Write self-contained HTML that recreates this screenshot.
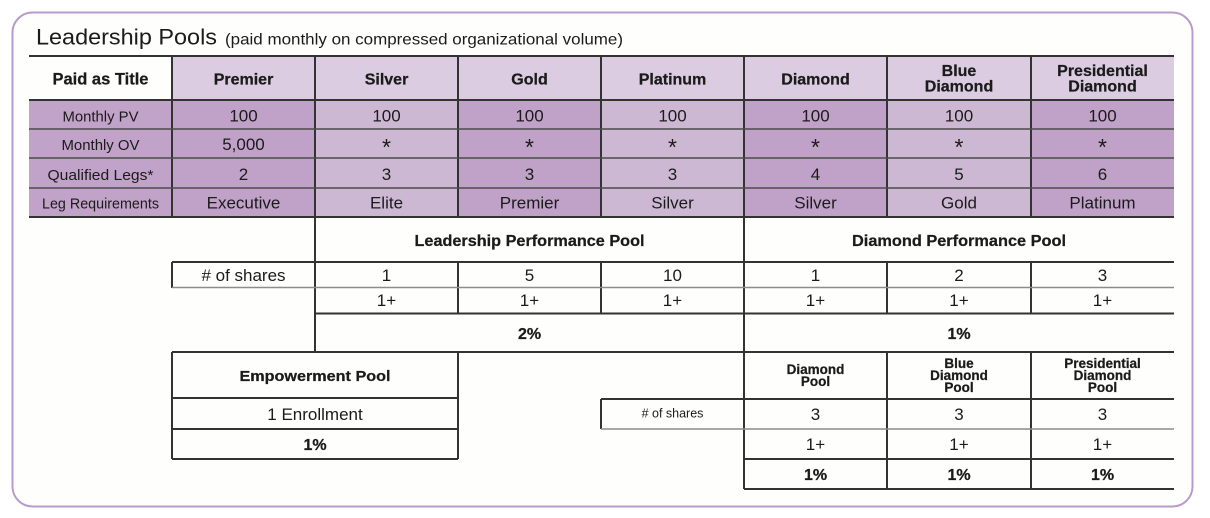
<!DOCTYPE html>
<html>
<head>
<meta charset="utf-8">
<style>
  html,body{margin:0;padding:0;background:#ffffff;}
  svg{display:block;}
  text{font-family:"Liberation Sans", Arial, sans-serif; fill:#1b1b1b;}
  .b{font-weight:bold; stroke:#1b1b1b; stroke-width:0.25;}
</style>
</head>
<body>
<svg width="1210" height="518" viewBox="0 0 1210 518" xmlns="http://www.w3.org/2000/svg">
  <!-- outer rounded border -->
  <rect x="12.5" y="12.5" width="1180" height="494" rx="20" ry="20" fill="#fefefc" stroke="#b99bcb" stroke-width="2"/>

  <!-- title -->
  <text x="36" y="44.5" font-size="22" textLength="181" lengthAdjust="spacingAndGlyphs">Leadership Pools</text>
  <text x="225" y="44.5" font-size="16" textLength="398" lengthAdjust="spacingAndGlyphs">(paid monthly on compressed organizational volume)</text>

  <!-- header row fills -->
  <rect x="172" y="56" width="1002" height="44" fill="#dccce1"/>
  <!-- body fills -->
  <rect x="29" y="100" width="143" height="117" fill="#c1a2c8"/>
  <rect x="172" y="100" width="143" height="117" fill="#c0a1c8"/>
  <rect x="315" y="100" width="143" height="117" fill="#cdb8d4"/>
  <rect x="458" y="100" width="143" height="117" fill="#c0a1c8"/>
  <rect x="601" y="100" width="143" height="117" fill="#cdb8d4"/>
  <rect x="744" y="100" width="143" height="117" fill="#c0a1c8"/>
  <rect x="887" y="100" width="144" height="117" fill="#cdb8d4"/>
  <rect x="1031" y="100" width="143" height="117" fill="#c0a1c8"/>

  <!-- upper table lines -->
  <g stroke="#333" stroke-width="2">
    <line x1="29" y1="56" x2="1174" y2="56"/>
    <line x1="29" y1="100" x2="1174" y2="100"/>
    <line x1="29" y1="217" x2="1174" y2="217"/>
    <line x1="172" y1="56" x2="172" y2="217"/>
    <line x1="315" y1="56" x2="315" y2="352"/>
    <line x1="458" y1="56" x2="458" y2="217"/>
    <line x1="601" y1="56" x2="601" y2="217"/>
    <line x1="744" y1="56" x2="744" y2="489"/>
    <line x1="887" y1="56" x2="887" y2="217"/>
    <line x1="1031" y1="56" x2="1031" y2="217"/>
  </g>
  <g stroke="#4a4a4a" stroke-width="1.6">
    <line x1="29" y1="129" x2="1174" y2="129"/>
    <line x1="29" y1="158" x2="1174" y2="158"/>
    <line x1="29" y1="188" x2="1174" y2="188"/>
  </g>

  <!-- header text -->
  <g class="b" font-size="16" text-anchor="middle">
    <text x="100.5" y="84.5" class="b" font-size="16.5">Paid as Title</text>
    <text x="243.5" y="84.5">Premier</text>
    <text x="386.5" y="84.5">Silver</text>
    <text x="529.5" y="84.5">Gold</text>
    <text x="672.5" y="84.5">Platinum</text>
    <text x="815.5" y="84.5">Diamond</text>
    <text x="959" y="76">Blue</text>
    <text x="959" y="91.5">Diamond</text>
    <text x="1102.5" y="76">Presidential</text>
    <text x="1102.5" y="91.5">Diamond</text>
  </g>

  <!-- labels -->
  <g font-size="15" text-anchor="middle">
    <text x="100.5" y="121.5" textLength="76" lengthAdjust="spacingAndGlyphs">Monthly PV</text>
    <text x="100.5" y="150" textLength="78" lengthAdjust="spacingAndGlyphs">Monthly OV</text>
    <text x="100.5" y="180" textLength="106" lengthAdjust="spacingAndGlyphs">Qualified Legs*</text>
    <text x="100.5" y="208.5" textLength="117" lengthAdjust="spacingAndGlyphs">Leg Requirements</text>
  </g>

  <!-- values -->
  <g font-size="17" text-anchor="middle">
    <text x="243.5" y="121.5">100</text>
    <text x="386.5" y="121.5">100</text>
    <text x="529.5" y="121.5">100</text>
    <text x="672.5" y="121.5">100</text>
    <text x="815.5" y="121.5">100</text>
    <text x="959" y="121.5">100</text>
    <text x="1102.5" y="121.5">100</text>

    <text x="243.5" y="150">5,000</text>

    <text x="243.5" y="180">2</text>
    <text x="386.5" y="180">3</text>
    <text x="529.5" y="180">3</text>
    <text x="672.5" y="180">3</text>
    <text x="815.5" y="180">4</text>
    <text x="959" y="180">5</text>
    <text x="1102.5" y="180">6</text>

    <text x="243.5" y="208.5">Executive</text>
    <text x="386.5" y="208.5">Elite</text>
    <text x="529.5" y="208.5">Premier</text>
    <text x="672.5" y="208.5">Silver</text>
    <text x="815.5" y="208.5">Silver</text>
    <text x="959" y="208.5">Gold</text>
    <text x="1102.5" y="208.5">Platinum</text>
  </g>
  <g font-size="23" text-anchor="middle">
    <text x="386.5" y="155">*</text>
    <text x="529.5" y="155">*</text>
    <text x="672.5" y="155">*</text>
    <text x="815.5" y="155">*</text>
    <text x="959" y="155">*</text>
    <text x="1102.5" y="155">*</text>
  </g>

  <!-- lower performance pools section -->
  <text x="529.5" y="246" class="b" font-size="15.5" text-anchor="middle" textLength="230" lengthAdjust="spacingAndGlyphs">Leadership Performance Pool</text>
  <text x="959" y="246" class="b" font-size="15.5" text-anchor="middle" textLength="214" lengthAdjust="spacingAndGlyphs">Diamond Performance Pool</text>

  <g stroke="#333" stroke-width="2">
    <line x1="172" y1="262" x2="1174" y2="262"/>
    <line x1="172" y1="262" x2="172" y2="288"/>
    <line x1="458" y1="262" x2="458" y2="314"/>
    <line x1="601" y1="262" x2="601" y2="314"/>
    <line x1="887" y1="262" x2="887" y2="314"/>
    <line x1="1031" y1="262" x2="1031" y2="314"/>
    <line x1="315" y1="313.5" x2="1174" y2="313.5"/>
    <line x1="172" y1="352" x2="1174" y2="352"/>
  </g>
  <line x1="172" y1="287.5" x2="1174" y2="287.5" stroke="#8c8c8c" stroke-width="1.6"/>

  <g font-size="17" text-anchor="middle">
    <text x="243.5" y="281"># of shares</text>
    <text x="386.5" y="281">1</text>
    <text x="529.5" y="281">5</text>
    <text x="672.5" y="281">10</text>
    <text x="815.5" y="281">1</text>
    <text x="959" y="281">2</text>
    <text x="1102.5" y="281">3</text>

    <text x="386.5" y="306">1+</text>
    <text x="529.5" y="306">1+</text>
    <text x="672.5" y="306">1+</text>
    <text x="815.5" y="306">1+</text>
    <text x="959" y="306">1+</text>
    <text x="1102.5" y="306">1+</text>
  </g>
  <text x="529.5" y="339" class="b" font-size="16" text-anchor="middle">2%</text>
  <text x="959" y="339" class="b" font-size="16" text-anchor="middle">1%</text>

  <!-- Empowerment pool box -->
  <g stroke="#333" stroke-width="2" fill="none">
    <line x1="172" y1="352" x2="172" y2="459"/>
    <line x1="458" y1="352" x2="458" y2="459"/>
    <line x1="172" y1="398" x2="458" y2="398"/>
    <line x1="172" y1="429" x2="458" y2="429"/>
    <line x1="172" y1="459" x2="458" y2="459"/>
  </g>
  <text x="315" y="381" class="b" font-size="15" text-anchor="middle" textLength="151" lengthAdjust="spacingAndGlyphs">Empowerment Pool</text>
  <text x="315" y="420" font-size="17" text-anchor="middle">1 Enrollment</text>
  <text x="315" y="450" class="b" font-size="16" text-anchor="middle">1%</text>

  <!-- Diamond pools -->
  <g stroke="#333" stroke-width="2">
    <line x1="601" y1="399" x2="1174" y2="399"/>
    <line x1="601" y1="399" x2="601" y2="429"/>
    <line x1="887" y1="352" x2="887" y2="489"/>
    <line x1="1031" y1="352" x2="1031" y2="489"/>
    <line x1="744" y1="459" x2="1174" y2="459"/>
    <line x1="744" y1="489" x2="1174" y2="489"/>
  </g>
  <line x1="601" y1="429" x2="1174" y2="429" stroke="#8c8c8c" stroke-width="1.6"/>

  <text x="672.5" y="417.5" font-size="12.5" text-anchor="middle"># of shares</text>

  <g class="b" font-size="13.5" text-anchor="middle">
    <text x="815.5" y="374">Diamond</text>
    <text x="815.5" y="386">Pool</text>
    <text x="959" y="368">Blue</text>
    <text x="959" y="380">Diamond</text>
    <text x="959" y="392">Pool</text>
    <text x="1102.5" y="368">Presidential</text>
    <text x="1102.5" y="380">Diamond</text>
    <text x="1102.5" y="392">Pool</text>
  </g>

  <g font-size="17" text-anchor="middle">
    <text x="815.5" y="420">3</text>
    <text x="959" y="420">3</text>
    <text x="1102.5" y="420">3</text>
    <text x="815.5" y="450">1+</text>
    <text x="959" y="450">1+</text>
    <text x="1102.5" y="450">1+</text>
  </g>
  <g class="b" font-size="16" text-anchor="middle">
    <text x="815.5" y="480">1%</text>
    <text x="959" y="480">1%</text>
    <text x="1102.5" y="480">1%</text>
  </g>
</svg>
</body>
</html>
